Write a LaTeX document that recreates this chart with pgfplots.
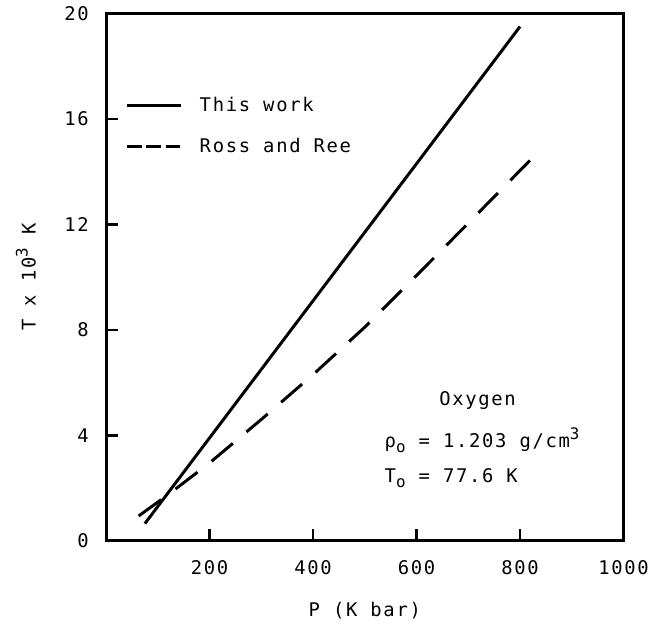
\documentclass[border=0pt]{standalone}
\usepackage{fontspec}
\setmainfont{DejaVu Sans Mono}[LetterSpace=9]
\usepackage{pgfplots}
\pgfplotsset{compat=1.18}
\pgfplotstableread{
P T
75 0.65
400 9.1
800 19.5
}\thiswork
\pgfplotstableread{
P T
63 0.94
120 1.75
200 2.95
300 4.6
400 6.3
500 8.1
640 10.85
823 14.5
}\rossree
\newcommand{\sub}[1]{\raisebox{-5bp}{\fontsize{16bp}{16bp}\selectfont #1}}
\newcommand{\sups}[1]{\raisebox{8bp}{\fontsize{16bp}{16bp}\selectfont #1}}
\begin{document}
\fontsize{19bp}{22bp}\selectfont
\begin{tikzpicture}
\begin{axis}[
  name=ax,
  scale only axis,
  width=522bp, height=532bp,
  xmin=0, xmax=1000, ymin=0, ymax=20,
  xtick={200,400,600,800,1000},
  ytick={0,4,8,12,16,20},
  tick pos=left,
  tick align=inside,
  major tick length=12bp,
  tick style={black, line width=2.6bp},
  axis line style={line width=3bp},
  /pgf/number format/assume math mode=true,
  /pgf/number format/1000 sep={},
  ticklabel style={font=\fontsize{19bp}{22bp}\selectfont},
  xticklabel style={yshift=-13bp},
  yticklabel style={xshift=-11bp},
  xlabel={P (K bar)},
  ylabel={T x 10\sups{3} K},
  xlabel style={at={(axis description cs:0.5,-0.1316)}, anchor=center},
  ylabel style={at={(axis description cs:-0.155,0.5)}, anchor=center},
  legend style={at={(axis description cs:0.037,0.845)}, anchor=north west,
    draw=none, fill=none, inner sep=0pt, row sep=20bp, column sep=15bp,
    font=\fontsize{19bp}{22bp}\selectfont},
  legend cell align=left,
  legend image code/.code={\draw[#1] (0bp,0bp) -- (55bp,0bp);},
]
\addplot[black, line width=3bp] table[x=P, y=T] {\thiswork};
\addlegendentry{This work}
\addplot[black, line width=3bp, dash pattern=on 28bp off 18bp,
  legend image post style={dash pattern=on 15bp off 4.5bp}] table[x=P, y=T] {\rossree};
\addlegendentry{Ross and Ree}
\node[anchor=base] at (axis cs:718,5.12) {Oxygen};
\node[anchor=base west] at (axis cs:526,3.53) {ρ\sub{o} = 1.203 g/cm\sups{3}};
\node[anchor=base west] at (axis cs:526,2.22) {T\sub{o} = 77.6 K};
\end{axis}
\path ([shift={(-107bp,-81bp)}]ax.south west) rectangle ([shift={(26bp,9bp)}]ax.north east);
\end{tikzpicture}
\end{document}
